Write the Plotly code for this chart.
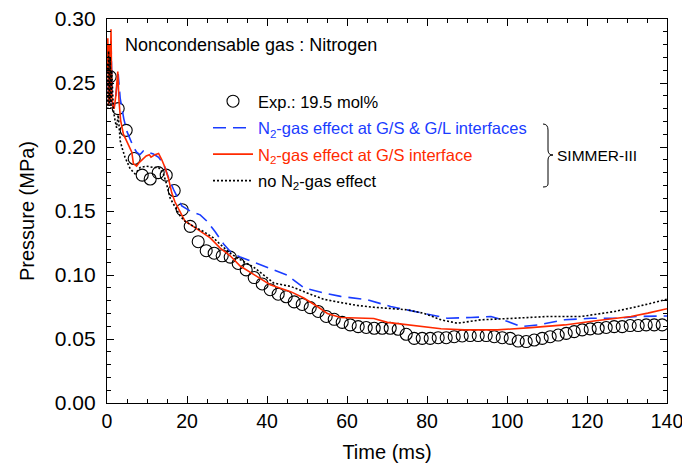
import plotly.graph_objects as go

# ---------------- data ----------------
exp_t = [0.8, 2.8, 4.8, 6.8, 8.8, 10.8, 12.8, 14.8, 16.8, 18.8, 20.8, 22.8, 24.8, 26.8,
         28.8, 30.8, 32.8, 34.8, 36.8, 38.8, 40.8, 42.8, 44.8, 46.8, 48.8, 50.8, 52.8,
         54.8, 56.8, 58.8, 60.8, 62.8, 64.8, 66.8, 68.8, 70.8, 72.8, 74.8, 76.8, 78.8,
         80.8, 82.8, 84.8, 86.8, 88.8, 90.8, 92.8, 94.8, 96.8, 98.8, 100.8, 102.8, 104.8,
         106.8, 108.8, 110.8, 112.8, 114.8, 116.8, 118.8, 120.8, 122.8, 124.8, 126.8,
         128.8, 130.8, 132.8, 134.8, 136.8, 138.8]
exp_p = [0.255, 0.230, 0.213, 0.191, 0.178, 0.175, 0.180, 0.178, 0.166, 0.151, 0.138,
         0.126, 0.119, 0.117, 0.115, 0.114, 0.109, 0.104, 0.098, 0.093, 0.0885, 0.085,
         0.083, 0.079, 0.077, 0.0745, 0.0715, 0.0676, 0.0654, 0.063, 0.061, 0.0597,
         0.059, 0.0584, 0.0584, 0.0584, 0.0576, 0.0537, 0.0505, 0.0505, 0.0505, 0.051,
         0.051, 0.0518, 0.0524, 0.0527, 0.0527, 0.0527, 0.0518, 0.051, 0.0505, 0.0484,
         0.048, 0.0492, 0.0505, 0.0518, 0.0531, 0.0544, 0.0558, 0.0571, 0.0579, 0.0584,
         0.059, 0.0597, 0.0597, 0.0605, 0.0605, 0.061, 0.061, 0.061]

gsgl_t = [0, 0.2, 0.4, 0.6, 0.8, 1.0, 1.3, 1.7, 2.2, 2.8, 3.3, 4.2, 5.0, 5.8, 6.6, 7.4,
          8.2, 9.1, 10.3, 11.6, 12.9, 14.1, 15.4, 16.6, 17.9, 18.7, 20.8, 23.3, 25.0,
          27.0, 29.2, 31.2, 33.3, 37.5, 42.5, 45.0, 49.2, 54.2, 58.4, 65.0, 70.9, 76.8,
          82.6, 85.1, 91.0, 96.0, 100.2, 103.5, 107.7, 114.4, 121.0, 127.7, 132.7,
          137.7, 140]
gsgl_p = [0.26, 0.28, 0.235, 0.275, 0.24, 0.285, 0.235, 0.23, 0.24, 0.257, 0.238, 0.222,
          0.212, 0.206, 0.200, 0.196, 0.194, 0.197, 0.196, 0.1945, 0.192, 0.187, 0.176,
          0.167, 0.159, 0.154, 0.150, 0.147, 0.142, 0.134, 0.124, 0.117, 0.114, 0.109,
          0.1034, 0.100, 0.090, 0.086, 0.0833, 0.0807, 0.0754, 0.0715, 0.0676, 0.0662,
          0.0668, 0.0676, 0.0636, 0.0597, 0.061, 0.065, 0.0662, 0.0662, 0.0676, 0.068,
          0.068]

gs_t = [0, 0.2, 0.4, 0.6, 0.8, 1.0, 1.2, 1.5, 1.8, 2.2, 2.7, 3.0, 3.4, 4.1, 5.3, 6.2,
        6.6, 7.4, 8.1, 8.7, 9.1, 9.8, 10.6, 11.0, 12.0, 12.9, 13.7, 14.5, 15.4, 16.2,
        17.0, 18.3, 19.5, 20.8, 23.3, 25.8, 28.3, 30.8, 33.3, 35.8, 40.8, 45.9, 49.2,
        52.6, 55.1, 58.4, 63.4, 66.7, 70.1, 73.4, 78.4, 83.5, 89.3, 97.6, 106.0, 114.4,
        122.7, 131.0, 135.2, 140]
gs_p = [0.26, 0.285, 0.232, 0.28, 0.235, 0.292, 0.24, 0.231, 0.23, 0.24, 0.259, 0.236,
        0.221, 0.210, 0.202, 0.196, 0.187, 0.185, 0.188, 0.190, 0.191, 0.193, 0.194,
        0.192, 0.194, 0.195, 0.190, 0.184, 0.175, 0.164, 0.157, 0.149, 0.142, 0.1395,
        0.134, 0.129, 0.121, 0.115, 0.107, 0.102, 0.0924, 0.087, 0.082, 0.0754, 0.070,
        0.0668, 0.0664, 0.066, 0.063, 0.0617, 0.0597, 0.058, 0.0571, 0.0571, 0.0589,
        0.061, 0.0644, 0.0676, 0.0702, 0.0736]

none_t = [0, 0.2, 0.4, 0.6, 0.8, 1.0, 1.2, 1.6, 2.0, 2.4, 2.8, 3.3, 3.7, 4.5, 5.8, 7.0,
          8.3, 9.9, 11.6, 12.9, 14.1, 14.9, 15.8, 17.0, 18.3, 19.5, 21.6, 24.1, 26.6,
          28.3, 30.8, 33.3, 36.7, 41.7, 45.9, 50.0, 54.2, 58.4, 62.6, 66.7, 70.9, 75.1,
          79.3, 83.5, 87.6, 93.5, 101.8, 110.2, 118.6, 126.9, 132.7, 139.0, 140]
none_p = [0.265, 0.23, 0.275, 0.232, 0.27, 0.23, 0.26, 0.2286, 0.221, 0.215, 0.225,
          0.205, 0.200, 0.192, 0.183, 0.179, 0.184, 0.185, 0.184, 0.184, 0.179, 0.171,
          0.160, 0.153, 0.146, 0.142, 0.138, 0.134, 0.129, 0.124, 0.117, 0.112, 0.106,
          0.0937, 0.0911, 0.086, 0.081, 0.0785, 0.0762, 0.0748, 0.074, 0.0728, 0.070,
          0.065, 0.0623, 0.065, 0.0662, 0.0676, 0.0676, 0.0715, 0.0754, 0.0806, 0.081]

x_ticks = [0, 20, 40, 60, 80, 100, 120, 140]
y_ticks = [0.00, 0.05, 0.10, 0.15, 0.20, 0.25, 0.30]

# ---------------- layout constants ----------------
W, H = 682, 468
L, R, T, B = 107, 15, 19, 65
PW, PH = W - L - R, H - T - B

def px(xp, yp):
    return (xp - L) / PW, (H - B - yp) / PH

FONT = "Liberation Sans, Arial, sans-serif"
BLUE = "#1a3cff"
RED = "#ff2a00"

fig = go.Figure()
fig.add_trace(go.Scatter(
    x=exp_t, y=exp_p, mode="markers", name="Exp.: 19.5 mol%",
    marker=dict(symbol="circle-open", size=12, color="black", line=dict(width=1.1)),
    legendgroup="a"))
fig.add_trace(go.Scatter(
    x=gsgl_t, y=gsgl_p, mode="lines",
    name='<span style="color:%s">N<sub>2</sub>-gas effect at G/S &amp; G/L interfaces</span>' % BLUE,
    line=dict(color=BLUE, width=1.6, dash="13px,7px"), legendgroup="b"))
fig.add_trace(go.Scatter(
    x=gs_t, y=gs_p, mode="lines",
    name='<span style="color:%s">N<sub>2</sub>-gas effect at G/S interface</span>' % RED,
    line=dict(color=RED, width=1.6), legendgroup="c"))
fig.add_trace(go.Scatter(
    x=none_t, y=none_p, mode="lines",
    name="no N<sub>2</sub>-gas effect",
    line=dict(color="black", width=1.6, dash="2px,2px"), legendgroup="d"))

axis_common = dict(
    showline=True, linecolor="black", linewidth=1.2, mirror="allticks",
    ticks="inside", ticklen=7, tickwidth=1, tickcolor="black",
    showgrid=False, zeroline=False, automargin=False, ticklabeloverflow="allow",
)
fig.update_xaxes(
    range=[0, 140], tickvals=x_ticks, ticktext=[str(v) for v in x_ticks],
    tickfont=dict(family=FONT, size=19.5, color="black"),
    minor=dict(dtick=5, ticks="inside", ticklen=4, tickcolor="black", tickwidth=1),
    title=dict(text="Time (ms)", font=dict(family=FONT, size=20, color="black"), standoff=14),
    **axis_common)
fig.update_yaxes(
    range=[0, 0.30], tickvals=y_ticks, ticktext=["%.2f" % v for v in y_ticks],
    tickfont=dict(family=FONT, size=21, color="black"), ticklabelstandoff=6,
    minor=dict(dtick=0.01, ticks="inside", ticklen=4, tickcolor="black", tickwidth=1),
    title=dict(text="Pressure (MPa)", font=dict(family=FONT, size=20, color="black"), standoff=14),
    **axis_common)

lx, ly = px(208, 84)
fig.update_layout(
    template="none",
    width=W, height=H,
    margin=dict(l=L, r=R, t=T, b=B, autoexpand=False),
    paper_bgcolor="white", plot_bgcolor="white",
    font=dict(family=FONT, color="black"),
    showlegend=True,
    legend=dict(x=lx, y=ly, xanchor="left", yanchor="top",
                bgcolor="rgba(0,0,0,0)", borderwidth=0,
                font=dict(family=FONT, size=16.5, color="black"),
                traceorder="grouped", tracegroupgap=2, itemwidth=40),
)

ax, ay = px(123, 45)
fig.add_annotation(x=ax, y=ay, xref="paper", yref="paper", xanchor="left", yanchor="middle",
                   text="Noncondensable gas : Nitrogen", showarrow=False,
                   font=dict(family=FONT, size=18, color="black"))
sx, sy = px(555, 155)
fig.add_annotation(x=sx, y=sy, xref="paper", yref="paper", xanchor="left", yanchor="middle",
                   text="SIMMER-III", showarrow=False,
                   font=dict(family=FONT, size=15.5, color="black"))

# curly brace
pts = [(543, 124), (548, 126), (548, 150), (553, 155), (548, 160), (548, 184), (543, 187)]
pp = [px(a, b) for a, b in pts]
path = ("M %f,%f Q %f,%f %f,%f L %f,%f Q %f,%f %f,%f Q %f,%f %f,%f L %f,%f Q %f,%f %f,%f" % (
    pp[0][0], pp[0][1], pp[1][0], pp[0][1], pp[1][0], px(0, 130)[1],
    pp[2][0], pp[2][1], pp[2][0], pp[3][1], pp[3][0], pp[3][1],
    pp[4][0], pp[3][1], pp[4][0], pp[4][1], pp[5][0], pp[5][1],
    pp[5][0], pp[6][1], pp[6][0], pp[6][1]))
fig.add_shape(type="path", path=path, xref="paper", yref="paper",
              line=dict(color="black", width=1))

fig.write_html("out.html", config={"displayModeBar": False},
               post_script="document.body.style.margin='0';document.body.style.padding='0';")
